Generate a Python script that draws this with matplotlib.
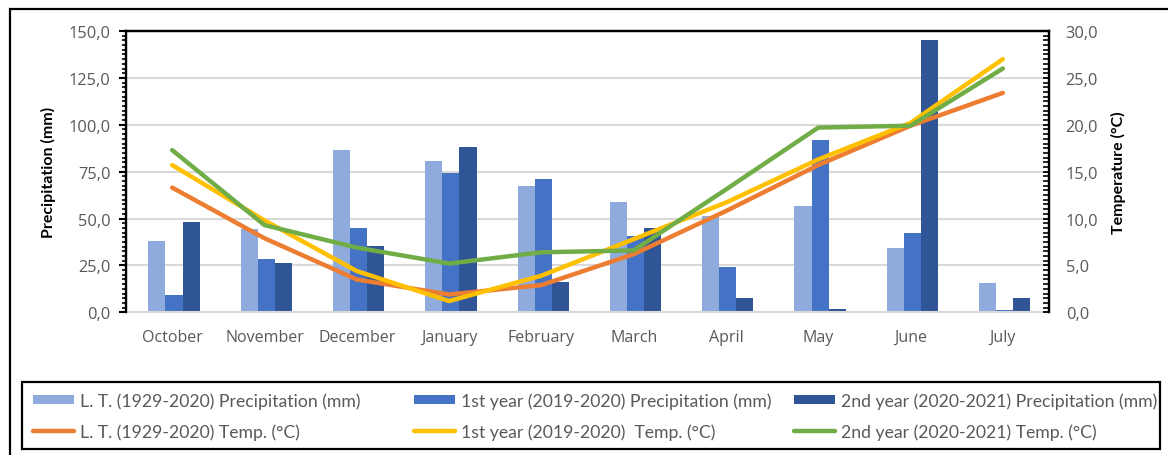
import matplotlib.pyplot as plt
import matplotlib.patches as mpatches
import numpy as np
from matplotlib.ticker import MultipleLocator, FuncFormatter

months = ["October", "November", "December", "January", "February",
          "March", "April", "May", "June", "July"]

# precipitation (mm)
prec_lt = [38.0, 44.4, 86.6, 80.8, 67.3, 58.6, 51.5, 56.6, 34.3, 15.6]
prec_y1 = [9.4, 28.4, 44.9, 74.2, 71.0, 40.8, 24.1, 92.0, 42.4, 1.4]
prec_y2 = [48.1, 26.3, 35.2, 88.2, 16.3, 44.7, 7.5, 2.0, 145.0, 7.8]

# temperature (°C)
temp_lt = [13.3, 7.9, 3.5, 1.9, 2.9, 6.2, 10.8, 15.7, 19.9, 23.4]
temp_y1 = [15.7, 9.8, 4.4, 1.2, 3.9, 7.8, 11.7, 16.3, 20.2, 27.0]
temp_y2 = [17.3, 9.3, 6.9, 5.2, 6.4, 6.6, 13.1, 19.7, 19.9, 26.0]

lbl_prec = ["L. T. (1929-2020) Precipitation (mm)",
            "1st year (2019-2020) Precipitation (mm)",
            "2nd year (2020-2021) Precipitation (mm)"]
lbl_temp = ["L. T. (1929-2020) Temp. (°C)",
            "1st year (2019-2020)  Temp. (°C)",
            "2nd year (2020-2021) Temp. (°C)"]

bar_cols = ["#8faadc", "#4472c4", "#2f5597"]
line_cols = ["#ed7d31", "#ffc000", "#70ad47"]
grey = "#595959"

W, H = 1168, 456
def fx(px):
    return px / W
def fy(py):
    return 1 - py / H

fig = plt.figure(figsize=(W / 100, H / 100), dpi=100)

# outer frame (runs off the right and bottom edge)
fig.patches.append(mpatches.Rectangle((fx(10), -0.2), 1.2, fy(10) + 0.2,
                                      transform=fig.transFigure, fill=False,
                                      edgecolor="black", lw=1.6))

ax = fig.add_axes([fx(126), fy(313.3), fx(1049) - fx(126), fy(32) - fy(313.3)])
x = np.arange(len(months))
bw = 0.185
bars = []
for i, (vals, c) in enumerate(zip([prec_lt, prec_y1, prec_y2], bar_cols)):
    bars.append(ax.bar(x + (i - 1) * bw + 0.02, vals, bw, color=c, zorder=2))

ax.set_xlim(-0.5, len(months) - 0.5)
ax.set_ylim(0, 150)
ax.yaxis.set_major_locator(MultipleLocator(25))
ax.yaxis.set_minor_locator(MultipleLocator(2.5))
comma = FuncFormatter(lambda v, p: f"{v:.1f}".replace(".", ","))
ax.yaxis.set_major_formatter(comma)
ax.grid(axis="y", color="#d9d9d9", lw=1.5, zorder=0)
ax.set_xticks(x)
ax.set_xticklabels(months, fontsize=11.5, color=grey, family="Open Sans")
ax.tick_params(axis="x", length=0, pad=12)
ax.tick_params(axis="y", which="major", direction="out", length=5, width=1.5,
               labelsize=11.8, labelcolor=grey, pad=6)
ax.tick_params(axis="y", which="minor", direction="out", length=3, width=1.2)
for lab in ax.get_yticklabels():
    lab.set_family("Open Sans")
for s in ["left", "top", "right"]:
    ax.spines[s].set_linewidth(1.6)
ax.spines["bottom"].set_color("#d9d9d9")
ax.spines["bottom"].set_linewidth(1.5)
ax.set_ylabel("Precipitation (mm)", fontsize=11.5, fontweight="bold",
              family="Lato", labelpad=9)

ax2 = ax.twinx()
lines = []
for vals, c in zip([temp_lt, temp_y1, temp_y2], line_cols):
    ln, = ax2.plot(x, vals, color=c, lw=3.2, solid_capstyle="round",
                   solid_joinstyle="round", zorder=3)
    lines.append(ln)
ax2.set_ylim(0, 30)
ax2.yaxis.set_major_locator(MultipleLocator(5))
ax2.yaxis.set_minor_locator(MultipleLocator(0.5))
ax2.yaxis.set_major_formatter(comma)
ax2.tick_params(axis="y", which="major", direction="in", length=4, width=1.3,
                labelsize=11.8, labelcolor=grey, pad=12)
ax2.tick_params(axis="y", which="minor", direction="in", length=4, width=1.2)
for lab in ax2.get_yticklabels():
    lab.set_family("Open Sans")
for s in ["left", "top", "right"]:
    ax2.spines[s].set_linewidth(1.6)
ax2.spines["bottom"].set_visible(False)
ax2.set_ylabel("Temperature (°C)", fontsize=11.5, fontweight="bold",
               family="Lato", labelpad=9)

# legend: box plus three columns
fig.patches.append(mpatches.Rectangle((fx(22), fy(450)), fx(1160) - fx(22),
                                      fy(383) - fy(450), transform=fig.transFigure,
                                      fill=False, edgecolor="black", lw=1.6))
col_x = [33, 414, 794]
for i in range(3):
    leg = fig.legend([bars[i], lines[i]], [lbl_prec[i], lbl_temp[i]],
                     loc="center left", bbox_to_anchor=(fx(col_x[i]), fy(417)),
                     frameon=False, borderpad=0, borderaxespad=0,
                     handlelength=2.33, handleheight=0.38, handletextpad=0.34,
                     labelspacing=0.8, prop={"family": "Lato", "size": 12.7})
    for t in leg.get_texts():
        t.set_color(grey)

fig.savefig("out.png", dpi=100)
